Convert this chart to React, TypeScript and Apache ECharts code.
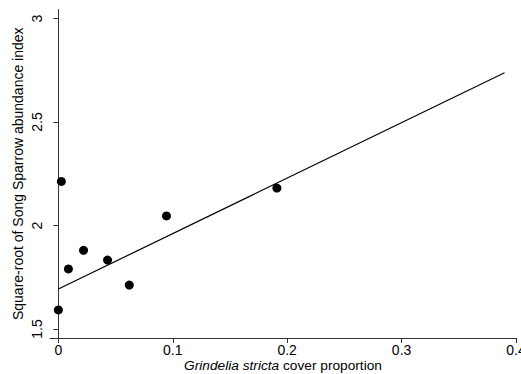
import React, { useEffect, useRef } from "react";
import * as echarts from "echarts";

const xValues = [0.0, 0.0026, 0.0088, 0.022, 0.043, 0.062, 0.0945, 0.191];
const yValues = [1.592, 2.213, 1.79, 1.88, 1.833, 1.712, 2.046, 2.181];
const fitLine = [
  [0.0, 1.693],
  [0.39, 2.738],
];
const xTicks = [0, 0.1, 0.2, 0.3, 0.4];
const yTicks = [1.5, 2, 2.5, 3];

export default function App() {
  const ref = useRef<HTMLDivElement>(null);
  useEffect(() => {
    if (!ref.current) return;
    const chart = echarts.init(ref.current, undefined, { renderer: "svg" });
    const font = "Liberation Sans, Arial, sans-serif";
    chart.setOption({
      animation: false,
      backgroundColor: "#ffffff",
      grid: {
        left: 50,
        right: 5,
        top: 9.5,
        bottom: 36,
        containLabel: false,
        outerBoundsMode: "none",
      },
      xAxis: {
        type: "value",
        min: -0.0073,
        max: 0.4,
        name: "{i|Grindelia stricta} cover proportion",
        nameLocation: "middle",
        nameGap: 20,
        nameMoveOverlap: false,
        nameTextStyle: {
          color: "#000",
          fontSize: 13.7,
          lineHeight: 14,
          fontFamily: font,
          rich: {
            i: { fontStyle: "italic", fontSize: 13.7, lineHeight: 14, fontFamily: font, color: "#000" },
          },
        },
        splitLine: { show: false },
        axisLine: { show: true, lineStyle: { color: "#333", width: 1 } },
        axisTick: {
          show: true,
          length: 5,
          customValues: xTicks,
          lineStyle: { color: "#333" },
        },
        axisLabel: {
          customValues: xTicks,
          color: "#000",
          fontSize: 14,
          lineHeight: 14,
          fontFamily: font,
          margin: 5,
          formatter: (v: number) => String(v),
        },
      },
      yAxis: {
        type: "value",
        min: 1.4565,
        max: 3.0435,
        name: "Square-root of Song Sparrow abundance index",
        nameLocation: "middle",
        nameGap: 25,
        nameMoveOverlap: false,
        nameTextStyle: { color: "#000", fontSize: 14, fontFamily: font },
        splitLine: { show: false },
        axisLine: { show: true, lineStyle: { color: "#333", width: 1 } },
        axisTick: {
          show: true,
          length: 5,
          customValues: yTicks,
          lineStyle: { color: "#333" },
        },
        axisLabel: {
          customValues: yTicks,
          rotate: 90,
          color: "#000",
          fontSize: 14,
          fontFamily: font,
          margin: 6,
          formatter: (v: number) => String(v),
        },
      },
      series: [
        {
          type: "scatter",
          data: xValues.map((x, i) => [x, yValues[i]]),
          symbol: "circle",
          symbolSize: 9,
          itemStyle: { color: "#000", opacity: 1 },
        },
        {
          type: "line",
          data: fitLine,
          symbol: "none",
          lineStyle: { color: "#000", width: 1.2 },
        },
      ],
    });
    return () => chart.dispose();
  }, []);
  return (
    <div
      ref={ref}
      style={{ position: "absolute", left: 0, top: 0, width: 521, height: 374 }}
    />
  );
}
